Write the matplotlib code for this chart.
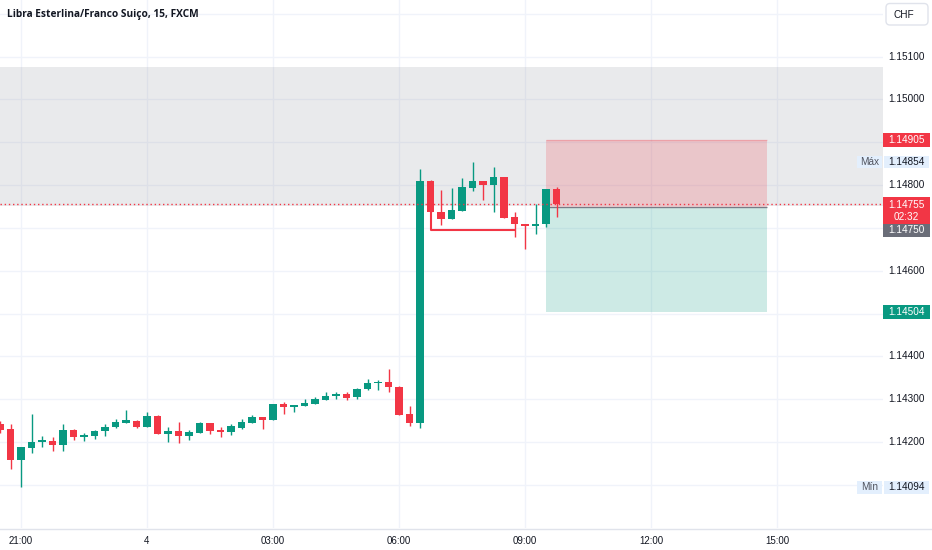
import matplotlib
matplotlib.use("Agg")
import matplotlib.pyplot as plt
from matplotlib.patches import Rectangle, FancyBboxPatch
import numpy as np

plt.rcParams['font.family'] = ['Liberation Sans', 'DejaVu Sans']

# ---------------- data ----------------
title = "Libra Esterlina/Franco Suiço, 15, FXCM"
times = ["20:30", "20:45", "21:00", "21:15", "21:30", "21:45", "22:00", "22:15",
         "22:30", "22:45", "23:00", "23:15", "23:30", "23:45", "00:00", "00:15",
         "00:30", "00:45", "01:00", "01:15", "01:30", "01:45", "02:00", "02:15",
         "02:30", "02:45", "03:00", "03:15", "03:30", "03:45", "04:00", "04:15",
         "04:30", "04:45", "05:00", "05:15", "05:30", "05:45", "06:00", "06:15",
         "06:30", "06:45", "07:00", "07:15", "07:30", "07:45", "08:00", "08:15",
         "08:30", "08:45", "09:00", "09:15", "09:30", "09:45"]
opens = [1.14242, 1.14230, 1.14158, 1.14186, 1.14200, 1.14202, 1.14193, 1.14228,
         1.14212, 1.14214, 1.14226, 1.14235, 1.14244, 1.14249, 1.14235, 1.14261,
         1.14219, 1.14226, 1.14214, 1.14221, 1.14244, 1.14228, 1.14223, 1.14233,
         1.14244, 1.14258, 1.14251, 1.14289, 1.14282, 1.14284, 1.14289, 1.14298,
         1.14307, 1.14312, 1.14305, 1.14324, 1.14338, 1.14340, 1.14328, 1.14265,
         1.14244, 1.14810, 1.14737, 1.14721, 1.14740, 1.14793, 1.14810, 1.14800,
         1.14819, 1.14726, 1.14709, 1.14705, 1.14709, 1.14791]
highs = [1.14249, 1.14242, 1.14188, 1.14265, 1.14214, 1.14212, 1.14242, 1.14230,
         1.14221, 1.14228, 1.14242, 1.14254, 1.14275, 1.14251, 1.14270, 1.14263,
         1.14235, 1.14247, 1.14228, 1.14247, 1.14244, 1.14235, 1.14242, 1.14254,
         1.14263, 1.14258, 1.14289, 1.14293, 1.14286, 1.14300, 1.14305, 1.14317,
         1.14317, 1.14317, 1.14326, 1.14347, 1.14345, 1.14370, 1.14330, 1.14284,
         1.14838, 1.14812, 1.14789, 1.14793, 1.14817, 1.14854, 1.14810, 1.14842,
         1.14819, 1.14737, 1.14709, 1.14756, 1.14791, 1.14796]
lows = [1.14221, 1.14137, 1.14094, 1.14174, 1.14188, 1.14179, 1.14179, 1.14205,
        1.14202, 1.14207, 1.14214, 1.14233, 1.14244, 1.14233, 1.14235, 1.14219,
        1.14200, 1.14198, 1.14205, 1.14221, 1.14219, 1.14212, 1.14216, 1.14230,
        1.14244, 1.14230, 1.14251, 1.14265, 1.14270, 1.14284, 1.14289, 1.14298,
        1.14300, 1.14298, 1.14300, 1.14321, 1.14321, 1.14317, 1.14263, 1.14237,
        1.14233, 1.14737, 1.14707, 1.14721, 1.14740, 1.14786, 1.14765, 1.14737,
        1.14723, 1.14679, 1.14651, 1.14686, 1.14702, 1.14726]
closes = [1.14228, 1.14158, 1.14188, 1.14200, 1.14203, 1.14193, 1.14228, 1.14212,
          1.14216, 1.14226, 1.14235, 1.14247, 1.14251, 1.14235, 1.14261, 1.14219,
          1.14226, 1.14214, 1.14223, 1.14244, 1.14226, 1.14223, 1.14237, 1.14247,
          1.14258, 1.14251, 1.14289, 1.14282, 1.14286, 1.14291, 1.14300, 1.14307,
          1.14312, 1.14303, 1.14324, 1.14338, 1.14340, 1.14328, 1.14263, 1.14244,
          1.14810, 1.14737, 1.14721, 1.14742, 1.14796, 1.14810, 1.14800, 1.14819,
          1.14723, 1.14709, 1.14705, 1.14709, 1.14791, 1.14755]

tick_times = ["21:00", "00:00", "03:00", "06:00", "09:00", "12:00", "15:00"]
tick_labels = ["21:00", "4", "03:00", "06:00", "09:00", "12:00", "15:00"]
price_ticks = [1.152, 1.151, 1.150, 1.149, 1.148, 1.147, 1.146, 1.145, 1.144, 1.143, 1.142, 1.141]

# position tool (short)
pos_start, pos_end = "09:30", "14:45"
entry_price, stop_price, target_price = 1.14750, 1.14905, 1.14504
last_price = 1.14755
countdown = "02:32"
max_price, min_price = 1.14854, 1.14094
zone_top, zone_bottom = 1.15076, 1.14752
# drawn red path (from 06:45 candle to 08:45)
path_times = ["06:45", "06:45", "08:45"]
path_prices = [1.14737, 1.14695, 1.14695]

GREEN = "#089981"
RED = "#F23645"
GRID = "#f0f3fa"
TXT = "#131722"


def hours(t):
    hh, mm = map(int, t.split(":"))
    v = hh + mm / 60.0 - 21
    if v < -1:
        v += 24
    return v


W, H = 932, 550
fig = plt.figure(figsize=(W / 100, H / 100), dpi=100)
fig.patch.set_facecolor("white")
plot_w, plot_h = 883, 528
ax = fig.add_axes([0, (H - plot_h) / H, plot_w / W, plot_h / H])
ax.set_xlim(-0.5, (plot_w - 21) / 42.0)
ax.set_ylim(1.13999, 1.152324)
for s in ax.spines.values():
    s.set_visible(False)

# grid
tick_x = [hours(t) for t in tick_times]
ax.set_xticks(tick_x)
ax.set_xticklabels(tick_labels, fontsize=7, color=TXT)
ax.tick_params(axis="x", length=0, pad=6)
ax.set_yticks(price_ticks)
ax.set_yticklabels([])
ax.tick_params(axis="y", length=0)
ax.grid(True, color=GRID, lw=1, zorder=0)
ax.set_axisbelow(True)

xmin, xmax = ax.get_xlim()
# gray zone
ax.add_patch(Rectangle((xmin, zone_bottom), xmax - xmin, zone_top - zone_bottom,
                       facecolor="#9598a1", alpha=0.2, lw=0, zorder=1))

# position tool
xs, xe = hours(pos_start), hours(pos_end)
ax.add_patch(Rectangle((xs, entry_price), xe - xs, stop_price - entry_price,
                       facecolor=RED, alpha=0.2, lw=0, zorder=2))
ax.add_patch(Rectangle((xs, target_price), xe - xs, entry_price - target_price,
                       facecolor=GREEN, alpha=0.2, lw=0, zorder=2))
ax.hlines(stop_price, xs, xe, color=RED, alpha=0.25, lw=1, zorder=2)
ax.hlines(entry_price, xs, xe, color="#787b86", lw=1, zorder=2.5)

# candles
x = np.array([hours(t) for t in times])
o = np.array(opens); hi = np.array(highs); lo = np.array(lows); c = np.array(closes)
up = c >= o
cols = np.where(up, GREEN, RED)
ax.vlines(x, lo, hi, colors=cols, lw=1, zorder=3)
min_h = 0.00004
bot = np.minimum(o, c)
bh = np.abs(c - o)
small = bh < min_h
bot = np.where(small, (o + c) / 2 - min_h / 2, bot)
bh = np.where(small, min_h, bh)
ax.bar(x, bh, bottom=bot, width=0.17, color=cols, lw=0, zorder=4)

# drawn red path
ax.plot([hours(t) for t in path_times], path_prices, color=RED, lw=1.5, zorder=3.5,
        solid_capstyle="butt")

# last price dotted line
ax.axhline(last_price, color=RED, lw=1, ls=(0, (1, 2)), zorder=5)

# ---------------- overlay (pixel coords) ----------------
axo = fig.add_axes([0, 0, 1, 1], zorder=10)
axo.set_xlim(0, W)
axo.set_ylim(H, 0)
axo.axis("off")
axo.patch.set_alpha(0)


def ypix(p):
    return H - ax.transData.transform((0, p))[1]


# bottom axis line
axo.plot([0, W], [plot_h + 0.5, plot_h + 0.5], color="#e0e3eb", lw=1)

# title
axo.text(7, 15, title, fontsize=7.3, fontweight="bold", color=TXT,
         va="center", ha="left", family=["Open Sans", "DejaVu Sans"])

LBL_X, LBL_W = 883, 47
yl = ypix(last_price)
top = yl - 7.5
label_centers = [14.5, ypix(stop_price), ypix(max_price), top + 13.5, top + 33.5,
                 ypix(target_price), ypix(min_price)]

# price tick labels (those hidden behind labels in the reference are skipped)
for p in price_ticks:
    yp = ypix(p)
    if min(abs(yp - lc) for lc in label_centers) < 11:
        continue
    axo.text(906.5, yp, f"{p:.5f}", fontsize=7.2, color=TXT, ha="center", va="center")


def box(x0, yc, w, h, fc, text, tc="white", fs=7.2):
    axo.add_patch(Rectangle((x0, yc - h / 2), w, h, facecolor=fc, lw=0, zorder=11))
    axo.text(x0 + w / 2, yc, text, fontsize=fs, color=tc, ha="center", va="center", zorder=12)


LIGHT = "#e3effd"
# stop label
box(LBL_X, ypix(stop_price), LBL_W, 14, RED, f"{stop_price:.5f}")
# max label
ym = ypix(max_price)
box(857, ym, 25, 12, LIGHT, "Máx", tc="#50535e")
box(884, ym, 45, 12, LIGHT, f"{max_price:.5f}", tc=TXT)
# last price label (two lines)
axo.add_patch(Rectangle((LBL_X, top), LBL_W, 27, facecolor=RED, lw=0, zorder=11))
axo.text(LBL_X + LBL_W / 2, top + 8, f"{last_price:.5f}", fontsize=7.2, color="white",
         ha="center", va="center", zorder=12)
axo.text(LBL_X + LBL_W / 2, top + 20, countdown, fontsize=7.2, color="white",
         ha="center", va="center", zorder=12)
# entry label below it
box(LBL_X, top + 27 + 6.5, LBL_W, 13, "#6a6d78", f"{entry_price:.5f}")
# target label
box(LBL_X, ypix(target_price), LBL_W, 14, GREEN, f"{target_price:.5f}")
# min label
yn = ypix(min_price)
box(857, yn, 25, 13, LIGHT, "Mín", tc="#50535e")
box(884, yn, 45, 13, LIGHT, f"{min_price:.5f}", tc=TXT)

# currency box
axo.add_patch(FancyBboxPatch((886, 3.5), 42, 21.5, boxstyle="round,pad=0,rounding_size=4",
                             facecolor="white", edgecolor="#e0e3eb", lw=1, zorder=11))
axo.text(893, 14.5, "CHF", fontsize=7.2, color=TXT, ha="left", va="center", zorder=12)

fig.savefig("out.png", dpi=100, facecolor="white")
